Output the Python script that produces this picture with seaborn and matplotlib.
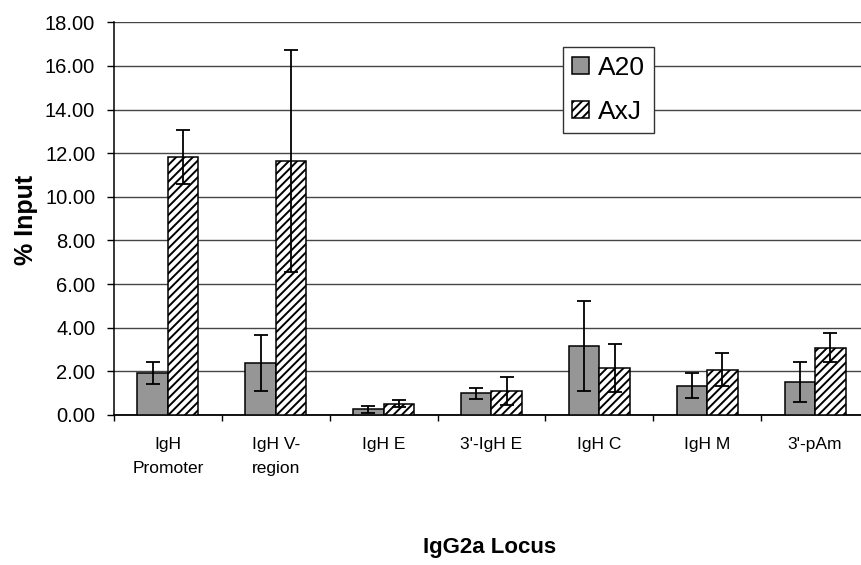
import numpy as np
import pandas as pd
import matplotlib
matplotlib.use("Agg")
import matplotlib.pyplot as plt
import seaborn as sns
from matplotlib.ticker import FormatStrFormatter, FixedLocator
from matplotlib.patches import Patch

categories = ["IgH\nPromoter", "IgH V-\nregion", "IgH E", "3'-IgH E", "IgH C", "IgH M", "3'-pAm"]
series = ["A20", "AxJ"]
a20_values = [1.91, 2.40, 0.26, 1.00, 3.15, 1.35, 1.50]
a20_errors = [0.50, 1.28, 0.15, 0.25, 2.07, 0.58, 0.92]
axj_values = [11.83, 11.65, 0.52, 1.11, 2.17, 2.08, 3.09]
axj_errors = [1.23, 5.10, 0.15, 0.63, 1.10, 0.74, 0.65]
y_ticks = [0, 2, 4, 6, 8, 10, 12, 14, 16, 18]

df = pd.DataFrame({
    "locus": categories * 2,
    "strain": ["A20"] * len(categories) + ["AxJ"] * len(categories),
    "value": a20_values + axj_values,
})
errs = {"A20": a20_errors, "AxJ": axj_errors}

sns.set_theme(style="white")
plt.rcParams["font.family"] = ["Liberation Sans", "DejaVu Sans"]
plt.rcParams["hatch.linewidth"] = 1.4
plt.rcParams["hatch.color"] = "black"
for key in ["text.color", "axes.labelcolor", "xtick.color", "ytick.color"]:
    plt.rcParams[key] = "black"

fig = plt.figure(figsize=(8.61, 5.65), dpi=100)
ax = fig.add_axes([114 / 861, 150 / 565, 755 / 861, 392.7 / 565])

sns.barplot(data=df, x="locus", y="value", hue="strain", order=categories,
            hue_order=series, palette={"A20": "#969696", "AxJ": "white"},
            width=0.566, gap=0, edgecolor="black", linewidth=1.1,
            errorbar=None, legend=False, ax=ax, zorder=3)

for cont, s in zip(ax.containers, series):
    xs, ys = [], []
    for bar in cont.patches:
        if s == "AxJ":
            bar.set_hatch("////")
        xs.append(bar.get_x() + bar.get_width() / 2)
        ys.append(bar.get_height())
    ax.errorbar(xs, ys, yerr=errs[s], fmt="none", ecolor="black",
                elinewidth=1.3, capsize=5, capthick=1.3, zorder=5)

ax.set_ylim(0, 18)
ax.set_xlim(-0.5, len(categories) - 0.5)
ax.set_yticks(y_ticks)
ax.yaxis.set_major_formatter(FormatStrFormatter("%.2f"))
ax.yaxis.grid(True, color="#454545", linewidth=1.0, zorder=0)
ax.set_axisbelow(True)

for side in ["top", "right"]:
    ax.spines[side].set_visible(False)
ax.spines["left"].set_color("black")
ax.spines["left"].set_linewidth(1.1)
ax.spines["bottom"].set_color("black")
ax.spines["bottom"].set_linewidth(1.3)

ax.tick_params(axis="y", which="major", direction="out", length=5, width=1,
               color="black", labelsize=14.5, pad=8.5, left=True)
ax.tick_params(axis="x", which="major", length=0, labelsize=12.5, pad=15.5)
ax.xaxis.set_minor_locator(FixedLocator(np.arange(-0.5, len(categories), 1.0)))
ax.tick_params(axis="x", which="minor", direction="out", length=4, width=1,
               color="black", bottom=True)
for lbl in ax.get_xticklabels():
    lbl.set_linespacing(1.8)
    lbl.set_verticalalignment("top")

ax.set_xlabel("IgG2a Locus", fontsize=16, fontweight="bold")
ax.xaxis.set_label_coords(0.497, -0.311)
ax.set_ylabel("% Input", fontsize=18, fontweight="bold")
ax.yaxis.set_label_coords(-0.101, 0.497)

handles = [Patch(facecolor="#969696", edgecolor="black", linewidth=1.1),
           Patch(facecolor="white", edgecolor="black", linewidth=1.1, hatch="////")]
leg = ax.legend(handles, series, loc="upper left",
                bbox_to_anchor=(563 / 861, (565 - 47) / 565),
                bbox_transform=fig.transFigure, fontsize=19, frameon=True,
                fancybox=False, framealpha=1, edgecolor="#333333",
                handlelength=0.62, handleheight=0.62, handletextpad=0.35,
                borderpad=0.35, labelspacing=0.75, borderaxespad=0)
leg.get_frame().set_linewidth(1.0)

fig.savefig("out.png", dpi=100)
